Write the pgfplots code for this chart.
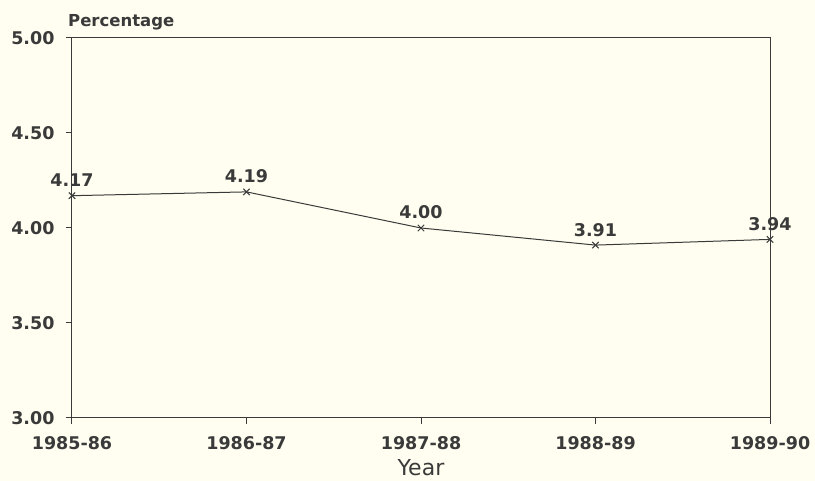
\documentclass[border=0pt]{standalone}
\usepackage{pgfplots}
\pgfplotsset{compat=1.18}
\usepackage{fontspec}
\setmainfont{DejaVu Sans}
\definecolor{bg}{HTML}{FFFEF0}
\definecolor{ink}{HTML}{3A3A3A}
\begin{document}
\begin{tikzpicture}
\path[use as bounding box, fill=bg] (-72pt,-63pt) rectangle (743pt,418pt);
\begin{axis}[
  at={(0,0)}, anchor=south west,
  scale only axis, width=698pt, height=380pt,
  xmin=0, xmax=4, ymin=3, ymax=5,
  xtick={0,1,2,3,4},
  xticklabels={1985-86,1986-87,1987-88,1988-89,1989-90},
  ytick={3,3.5,4,4.5,5},
  tick align=outside, tick pos=left, major tick length=6pt,
  axis line style={ink, line width=1pt},
  tick style={ink, line width=1pt},
  every tick label/.append style={font=\bfseries\fontsize{17.5}{19}\selectfont, text=ink},
  xticklabel style={yshift=-9pt},
  yticklabel style={xshift=-8pt, /pgf/number format/.cd, fixed, fixed zerofill, precision=2},
  /pgf/number format/assume math mode=true,
  clip=false,
]
\addplot[ink, line width=1pt, mark=x, mark size=4.5pt,
  nodes near coords,
  point meta=y,
  every node near coord/.append style={font=\bfseries\fontsize{17.5}{19}\selectfont, text=ink, anchor=base, inner sep=0pt, yshift=9pt,
    /pgf/number format/.cd, fixed, fixed zerofill, precision=2},
] coordinates {(0,4.17) (1,4.19) (2,4.00) (3,3.91) (4,3.94)};
\node[anchor=base west, font=\bfseries\fontsize{16.5}{18}\selectfont, text=ink, inner sep=0pt] at (rel axis cs:0,1) [xshift=-4pt, yshift=11pt] {Percentage};
\node[anchor=base, font=\fontsize{22}{24}\selectfont, text=ink, inner sep=0pt] at (rel axis cs:0.5,0) [yshift=-58pt] {Year};
\end{axis}
\end{tikzpicture}
\end{document}
